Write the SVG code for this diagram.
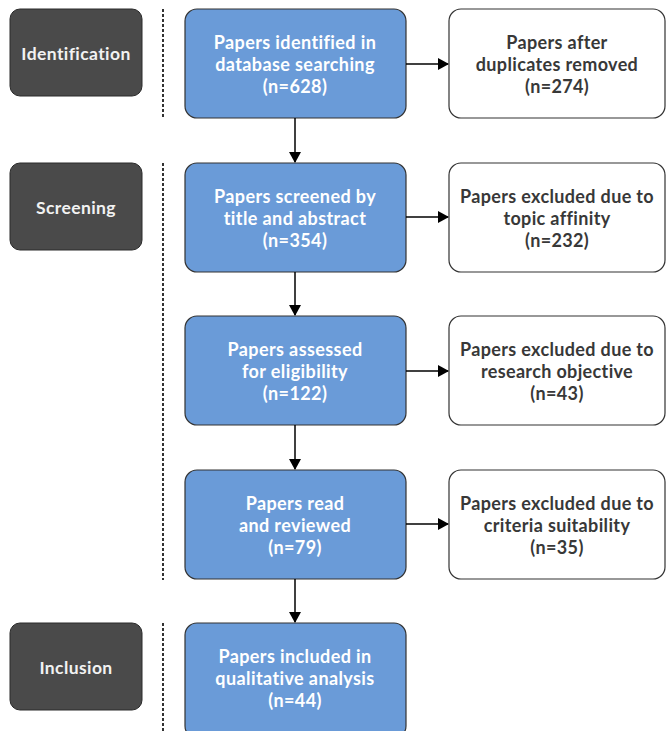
<svg xmlns="http://www.w3.org/2000/svg" width="666" height="731" viewBox="0 0 666 731">
<style>
.stage rect{fill:#4a4a4a;stroke:#2a2a2a;stroke-width:1}
.stage text{fill:#f2f2f2;font-family:Lato,"Liberation Sans",sans-serif;font-weight:bold;font-size:17.5px;letter-spacing:0.4px;text-anchor:middle}
.blue rect{fill:#6a9bd8;stroke:#333;stroke-width:1.2}
.blue text{fill:#ffffff;font-family:Lato,"Liberation Sans",sans-serif;font-weight:bold;font-size:18px;letter-spacing:0.4px;text-anchor:middle}
.white rect{fill:#ffffff;stroke:#333;stroke-width:1.2}
.white text{fill:#383838;font-family:Lato,"Liberation Sans",sans-serif;font-weight:bold;font-size:18px;letter-spacing:0.35px;text-anchor:middle}
.dash{stroke:#333;stroke-width:2;stroke-dasharray:3,2;fill:none}
.conn line{stroke:#000;stroke-width:1.5}
</style>
<defs>
<marker id="arr" markerWidth="11" markerHeight="12" refX="10" refY="6" orient="auto" markerUnits="userSpaceOnUse" viewBox="0 0 11 12">
<path d="M0,0 L11,6 L0,12 Z" fill="#000"/>
</marker>
</defs>
<rect width="666" height="731" fill="#ffffff"/>

<g id="stage-identification" class="stage"><rect x="10" y="9" width="132" height="87" rx="10"/><text x="76" y="60">Identification</text></g>
<g id="stage-screening" class="stage"><rect x="10" y="163" width="132" height="87" rx="10"/><text x="76" y="214">Screening</text></g>
<g id="stage-inclusion" class="stage"><rect x="10" y="623" width="132" height="87" rx="10"/><text x="76" y="674">Inclusion</text></g>

<g id="dividers">
<line class="dash" x1="163" y1="9" x2="163" y2="118"/>
<line class="dash" x1="163" y1="163" x2="163" y2="580"/>
<line class="dash" x1="163" y1="623" x2="163" y2="731"/>
</g>

<g id="n1" class="blue"><rect x="185" y="9" width="221" height="109" rx="12"/><text x="295" y="49">Papers identified in</text><text x="295" y="71">database searching</text><text x="295" y="93">(n=628)</text></g>
<g id="n2" class="blue"><rect x="185" y="163" width="221" height="109" rx="12"/><text x="295" y="203">Papers screened by</text><text x="295" y="225">title and abstract</text><text x="295" y="247">(n=354)</text></g>
<g id="n3" class="blue"><rect x="185" y="316" width="221" height="109" rx="12"/><text x="295" y="356">Papers assessed</text><text x="295" y="378">for eligibility</text><text x="295" y="400">(n=122)</text></g>
<g id="n4" class="blue"><rect x="185" y="470" width="221" height="109" rx="12"/><text x="295" y="510">Papers read</text><text x="295" y="532">and reviewed</text><text x="295" y="554">(n=79)</text></g>
<g id="n5" class="blue"><rect x="185" y="623" width="221" height="115" rx="12"/><text x="295" y="663">Papers included in</text><text x="295" y="685">qualitative analysis</text><text x="295" y="707">(n=44)</text></g>

<g id="w1" class="white"><rect x="449" y="9" width="216" height="109" rx="12"/><text x="557" y="49">Papers after</text><text x="557" y="71">duplicates removed</text><text x="557" y="93">(n=274)</text></g>
<g id="w2" class="white"><rect x="449" y="163" width="216" height="109" rx="12"/><text x="557" y="203">Papers excluded due to</text><text x="557" y="225">topic affinity</text><text x="557" y="247">(n=232)</text></g>
<g id="w3" class="white"><rect x="449" y="316" width="216" height="109" rx="12"/><text x="557" y="356">Papers excluded due to</text><text x="557" y="378">research objective</text><text x="557" y="400">(n=43)</text></g>
<g id="w4" class="white"><rect x="449" y="470" width="216" height="109" rx="12"/><text x="557" y="510">Papers excluded due to</text><text x="557" y="532">criteria suitability</text><text x="557" y="554">(n=35)</text></g>

<g id="connectors" class="conn">
<line x1="295" y1="118" x2="295" y2="162" marker-end="url(#arr)"/>
<line x1="295" y1="272" x2="295" y2="315" marker-end="url(#arr)"/>
<line x1="295" y1="425" x2="295" y2="469" marker-end="url(#arr)"/>
<line x1="295" y1="579" x2="295" y2="622" marker-end="url(#arr)"/>
<line x1="406" y1="64" x2="448" y2="64" marker-end="url(#arr)"/>
<line x1="406" y1="217" x2="448" y2="217" marker-end="url(#arr)"/>
<line x1="406" y1="371" x2="448" y2="371" marker-end="url(#arr)"/>
<line x1="406" y1="524" x2="448" y2="524" marker-end="url(#arr)"/>
</g>
</svg>
